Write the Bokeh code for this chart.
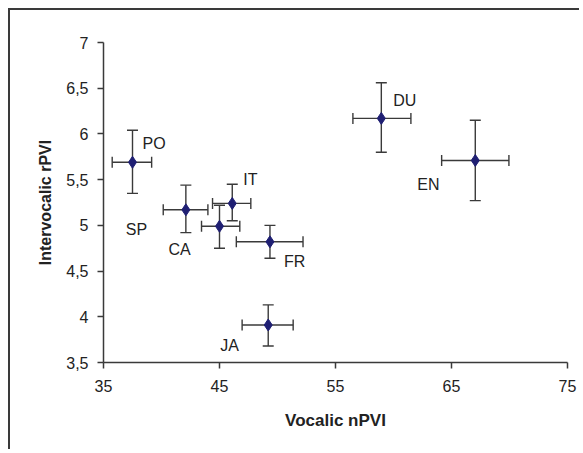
from bokeh.plotting import figure
from bokeh.models import ColumnDataSource, Whisker, TeeHead, FixedTicker
from bokeh.core.properties import value
from bokeh.embed import file_html
from bokeh.resources import INLINE

# ---- data ----
languages = ["PO", "SP", "IT", "CA", "FR", "JA", "DU", "EN"]
vocalic_npvi = [37.5, 42.1, 46.1, 45.0, 49.35, 49.2, 58.95, 67.05]
vocalic_low = [35.75, 40.15, 44.4, 43.45, 46.45, 46.95, 56.5, 64.15]
vocalic_high = [39.15, 44.0, 47.7, 46.75, 52.2, 51.35, 61.5, 69.95]
interv_rpvi = [5.69, 5.17, 5.24, 4.99, 4.82, 3.91, 6.17, 5.71]
interv_low = [5.35, 4.92, 5.05, 4.75, 4.64, 3.68, 5.80, 5.27]
interv_high = [6.04, 5.44, 5.45, 5.22, 5.00, 4.13, 6.56, 6.15]

x_ticks = [35, 45, 55, 65, 75]
y_ticks = [3.5, 4, 4.5, 5, 5.5, 6, 6.5, 7]
y_tick_labels = ["3,5", "4", "4,5", "5", "5,5", "6", "6,5", "7"]

# ---- label placement (screen-pixel offsets, style only) ----
label_dx = [10, -60, 11, -51, 14, -48, 12, -58]
label_dy = [-19, 20, -24, 23, 20, 20, -18, 24]

FONT = "Liberation Sans"
TXT = "#222222"
AX = "#3a3a3a"

src = ColumnDataSource(dict(
    lang=languages, x=vocalic_npvi, y=interv_rpvi,
    xl=vocalic_low, xh=vocalic_high, yl=interv_low, yh=interv_high,
    dx=label_dx, dy=label_dy,
))

p = figure(width=571, height=441, output_backend="svg", toolbar_location=None,
           x_range=(35, 75), y_range=(3.5, 7),
           min_border_left=93, min_border_top=32, min_border_right=14, min_border_bottom=89)
p.styles = {"margin-left": "8px", "margin-top": "8px",
            "border-left": "2px solid #3a3a3a", "border-top": "2px solid #3a3a3a"}
p.outline_line_color = None
p.xgrid.visible = False
p.ygrid.visible = False
p.background_fill_color = "white"
p.border_fill_color = "white"

# error bars
p.add_layout(Whisker(source=src, base="x", lower="yl", upper="yh", dimension="height",
                     line_color=AX, line_width=1.4,
                     upper_head=TeeHead(size=11, line_color=AX, line_width=1.4),
                     lower_head=TeeHead(size=11, line_color=AX, line_width=1.4)))
p.add_layout(Whisker(source=src, base="y", lower="xl", upper="xh", dimension="width",
                     line_color=AX, line_width=1.4,
                     upper_head=TeeHead(size=11, line_color=AX, line_width=1.4),
                     lower_head=TeeHead(size=11, line_color=AX, line_width=1.4)))

p.scatter("x", "y", source=src, marker="diamond", size=12,
          fill_color="#1f1f73", line_color="#1f1f73")

p.text("x", "y", text="lang", source=src, x_offset="dx", y_offset="dy",
       text_font=value(FONT), text_font_size="16px", text_color=TXT,
       text_align="left", text_baseline="middle")

# axes
for ax in (p.xaxis[0], p.yaxis[0]):
    ax.axis_line_color = AX
    ax.axis_line_width = 1.5
    ax.major_tick_line_color = AX
    ax.major_tick_line_width = 1.5
    ax.major_tick_in = 0
    ax.major_tick_out = 6
    ax.minor_tick_line_color = None
    ax.major_label_text_font = FONT
    ax.major_label_text_font_size = "16px"
    ax.major_label_text_color = TXT
    ax.axis_label_text_font = FONT
    ax.axis_label_text_font_style = "bold"
    ax.axis_label_text_color = TXT

p.xaxis.axis_label_text_font_size = "17px"
p.yaxis.axis_label_text_font_size = "16px"
p.xaxis.ticker = FixedTicker(ticks=x_ticks)
p.yaxis.ticker = FixedTicker(ticks=y_ticks)
p.yaxis.major_label_overrides = {t: l for t, l in zip(y_ticks, y_tick_labels)}
p.xaxis.axis_label = "Vocalic nPVI"
p.yaxis.axis_label = "Intervocalic rPVI"
p.xaxis.major_label_standoff = 11
p.yaxis.major_label_standoff = 9
p.xaxis.axis_label_standoff = 16
p.yaxis.axis_label_standoff = 9

open("out.html", "w").write(file_html(p, INLINE))
